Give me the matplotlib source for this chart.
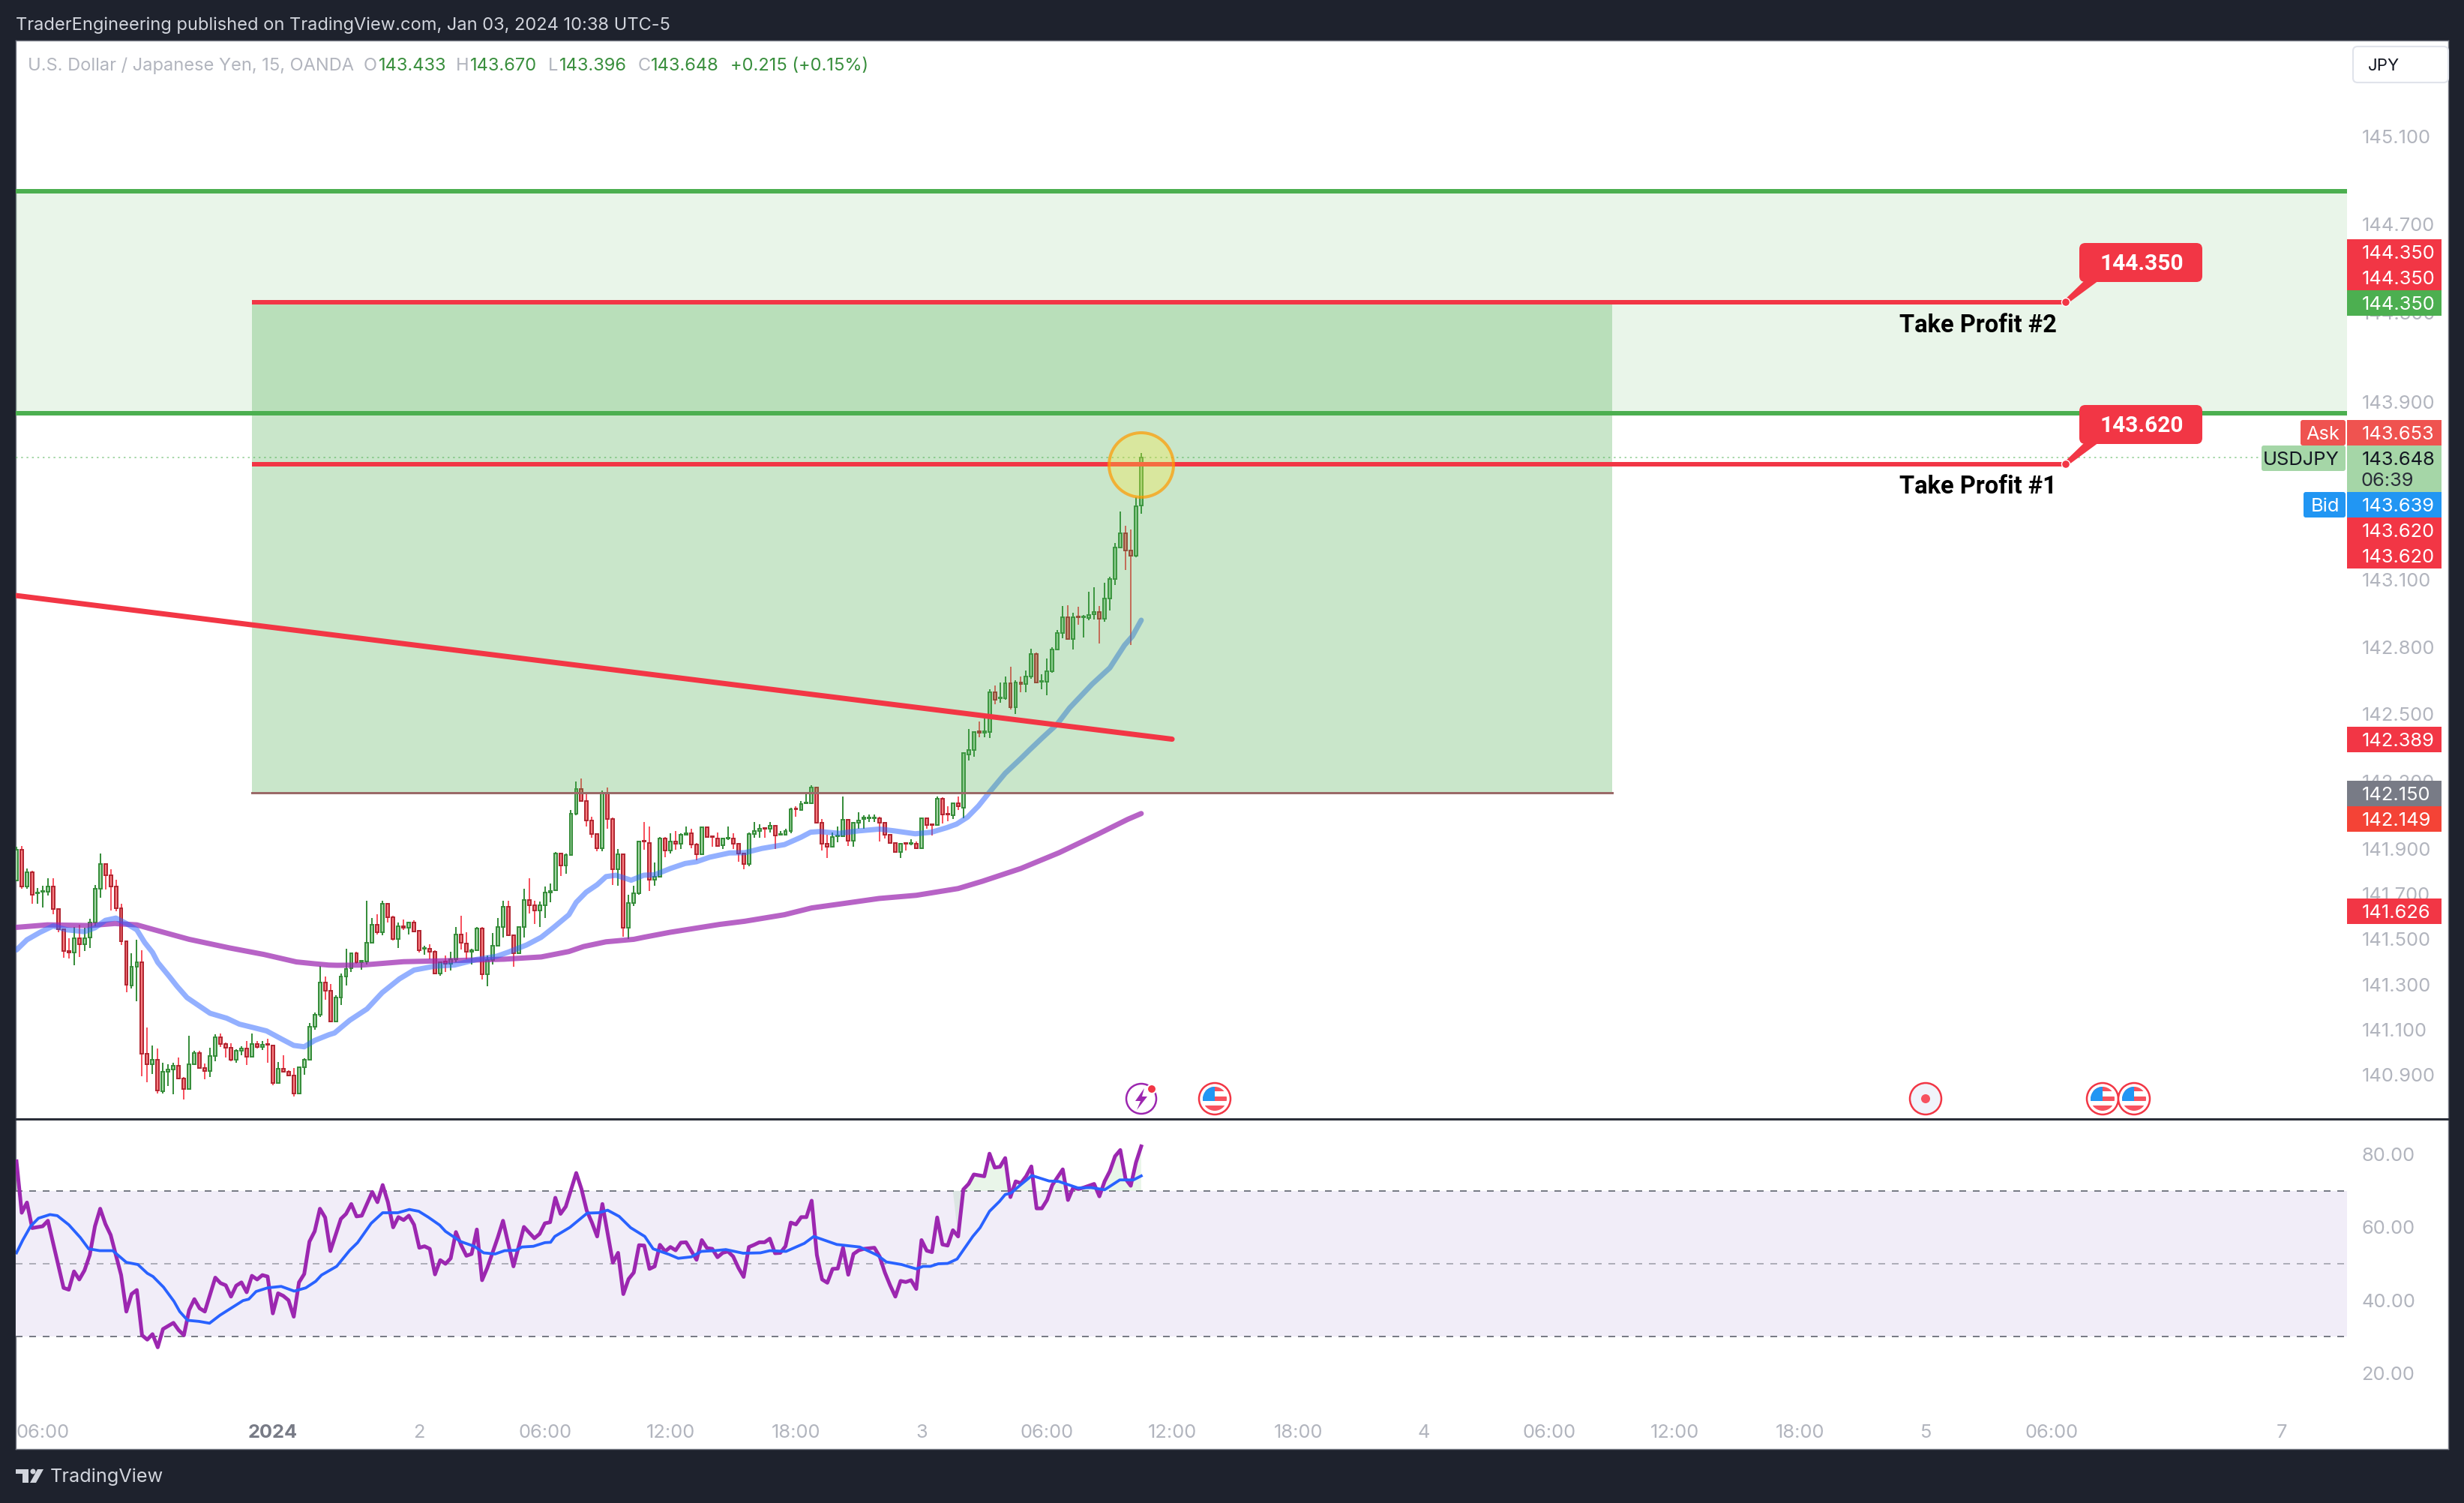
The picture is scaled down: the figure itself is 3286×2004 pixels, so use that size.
import matplotlib
matplotlib.use("Agg")
import numpy as np
import matplotlib.pyplot as plt
from matplotlib.patches import Rectangle, Circle, FancyBboxPatch, Polygon
from matplotlib.ticker import FixedLocator, FixedFormatter, NullLocator

W, H = 3286, 2004
plt.rcParams["font.family"] = ["Inter", "Roboto", "DejaVu Sans"]

# ---------------- data ----------------
highs = [141.911,141.914,141.814,141.805,141.729,141.739,141.769,141.769,141.634,141.548,
141.505,141.555,141.566,141.551,141.592,141.742,141.882,141.834,141.812,141.765,
141.659,141.493,141.439,141.499,141.452,141.109,141.032,141.019,140.955,140.948,
140.955,140.979,140.892,141.075,141.008,141.008,140.952,141.022,141.079,141.085,
141.045,141.039,141.015,141.028,141.049,141.082,141.052,141.052,141.059,141.031,
140.959,140.989,140.922,140.932,140.938,140.974,141.129,141.175,141.381,141.335,
141.302,141.251,141.348,141.459,141.442,141.445,141.404,141.671,141.595,141.612,
141.671,141.658,141.604,141.575,141.589,141.578,141.585,141.538,141.472,141.479,
141.451,141.401,141.429,141.445,141.555,141.605,141.532,141.459,141.555,141.555,
141.429,141.529,141.595,141.671,141.671,141.522,141.555,141.725,141.772,141.671,
141.668,141.734,141.748,141.888,141.885,141.881,142.075,142.202,142.215,142.155,
142.045,141.972,142.159,142.175,142.042,141.899,141.881,141.699,141.739,141.934,
142.019,142.002,141.839,141.955,141.955,141.972,141.979,141.969,142.002,141.992,
141.928,142.002,141.998,141.959,141.975,141.948,142.002,141.969,141.925,141.884,
141.975,142.019,142.012,141.998,142.019,142.005,141.979,141.992,142.085,142.089,
142.115,142.145,142.185,142.174,142.035,141.964,141.975,142.002,142.135,142.035,
142.020,142.065,142.052,142.055,142.055,142.045,142.018,141.968,141.928,141.928,
141.928,141.945,141.934,142.039,142.039,142.011,142.134,142.129,142.092,142.104,
142.134,142.330,142.434,142.424,142.468,142.485,142.610,142.629,142.643,142.667,
142.711,142.653,142.667,142.694,142.791,142.775,142.680,142.748,142.798,142.876,
142.983,142.987,142.953,142.980,142.943,143.047,143.067,142.983,143.088,143.115,
143.266,143.408,143.344,143.327,143.470,143.670]
lows = [141.759,141.725,141.723,141.659,141.659,141.640,141.695,141.612,141.532,141.420,
141.415,141.386,141.422,141.449,141.462,141.559,141.685,141.720,141.629,141.625,
141.475,141.266,141.282,141.225,140.895,140.869,140.905,140.819,140.819,140.852,
140.815,140.884,140.792,140.838,140.948,140.931,140.882,140.892,140.962,141.025,
140.979,140.962,140.955,140.986,140.945,140.981,141.019,141.012,140.955,140.855,
140.864,140.914,140.894,140.805,140.818,140.902,140.968,141.099,141.155,141.234,
141.138,141.138,141.209,141.295,141.355,141.392,141.365,141.389,141.483,141.522,
141.519,141.575,141.495,141.462,141.542,141.522,141.533,141.442,141.432,141.411,
141.345,141.339,141.355,141.362,141.398,141.455,141.412,141.389,141.451,141.322,
141.292,141.389,141.471,141.509,141.518,141.379,141.438,141.509,141.615,141.569,
141.555,141.595,141.665,141.718,141.782,141.792,141.874,142.049,142.114,142.002,
141.949,141.889,141.892,141.992,141.742,141.739,141.511,141.502,141.649,141.699,
141.898,141.715,141.739,141.778,141.864,141.882,141.898,141.899,141.959,141.905,
141.849,141.878,141.949,141.912,141.911,141.902,141.942,141.902,141.845,141.809,
141.825,141.949,141.952,141.949,141.975,141.899,141.959,141.959,141.969,142.044,
142.075,142.104,142.099,142.018,141.895,141.862,141.911,141.929,141.958,141.914,
141.909,141.992,141.989,142.019,142.019,141.934,141.948,141.928,141.884,141.859,
141.895,141.916,141.899,141.904,141.989,141.959,142.008,142.015,142.025,142.035,
142.075,142.038,142.294,142.311,142.399,142.399,142.395,142.543,142.550,142.564,
142.520,142.500,142.599,142.599,142.658,142.642,142.613,142.586,142.684,142.786,
142.839,142.837,142.788,142.898,142.842,142.919,142.923,142.815,142.913,142.963,
143.078,143.245,143.145,142.808,143.203,143.396]
opens = [141.759,141.898,141.734,141.798,141.704,141.710,141.711,141.734,141.634,141.544,
141.448,141.441,141.506,141.478,141.508,141.576,141.724,141.834,141.784,141.734,
141.636,141.493,141.296,141.378,141.398,140.994,140.948,140.968,140.830,140.914,
140.924,140.941,140.884,140.838,140.948,140.998,140.931,140.918,140.984,141.068,
141.038,141.021,140.968,141.008,141.018,140.981,141.038,141.024,141.038,141.031,
140.864,140.928,140.914,140.898,140.818,140.934,140.968,141.114,141.168,141.308,
141.274,141.138,141.244,141.334,141.371,141.438,141.400,141.401,141.486,141.564,
141.531,141.658,141.598,141.500,141.558,141.551,141.574,141.538,141.458,141.458,
141.446,141.348,141.401,141.391,141.411,141.520,141.482,141.445,141.451,141.548,
141.344,141.408,141.471,141.554,141.644,141.518,141.438,141.554,141.674,141.651,
141.628,141.651,141.708,141.718,141.881,141.828,141.874,142.058,142.168,142.114,
142.028,141.968,141.904,142.148,142.034,141.811,141.878,141.551,141.661,141.703,
141.938,141.928,141.764,141.778,141.948,141.894,141.934,141.924,141.964,141.971,
141.920,141.878,141.998,141.958,141.948,141.918,141.946,141.948,141.924,141.881,
141.834,141.968,141.981,141.994,141.991,142.004,141.964,141.964,141.981,142.081,
142.075,142.104,142.104,142.174,142.018,141.924,141.911,141.958,141.958,142.031,
141.938,142.018,142.034,142.036,142.036,142.038,142.018,141.964,141.928,141.888,
141.928,141.923,141.924,141.904,142.038,142.011,142.008,142.124,142.058,142.051,
142.104,142.085,142.320,142.342,142.423,142.419,142.421,142.597,142.571,142.570,
142.638,142.531,142.641,142.635,142.668,142.769,142.645,142.645,142.691,142.789,
142.864,142.932,142.836,142.938,142.932,142.931,142.946,142.957,142.928,143.016,
143.103,143.245,143.311,143.231,143.207,143.433]
closes = [141.898,141.733,141.798,141.698,141.709,141.714,141.734,141.634,141.544,141.448,
141.441,141.506,141.478,141.506,141.576,141.724,141.834,141.784,141.734,141.636,
141.493,141.298,141.378,141.398,140.994,140.948,140.968,140.831,140.914,140.924,
140.941,140.884,140.838,140.948,140.998,140.931,140.918,140.984,141.068,141.038,
141.021,140.968,141.008,141.018,140.981,141.038,141.024,141.034,141.033,140.864,
140.928,140.914,140.898,140.818,140.934,140.968,141.114,141.168,141.308,141.274,
141.138,141.244,141.334,141.370,141.438,141.398,141.404,141.486,141.564,141.531,
141.658,141.598,141.500,141.558,141.551,141.574,141.536,141.453,141.461,141.446,
141.348,141.398,141.391,141.411,141.520,141.485,141.445,141.451,141.548,141.344,
141.408,141.471,141.554,141.644,141.518,141.438,141.554,141.674,141.651,141.628,
141.651,141.708,141.715,141.881,141.828,141.874,142.058,142.168,142.114,142.028,
141.968,141.904,142.148,142.034,141.811,141.878,141.551,141.661,141.704,141.934,
141.934,141.764,141.776,141.948,141.894,141.934,141.924,141.964,141.971,141.920,
141.878,141.998,141.953,141.954,141.914,141.948,141.951,141.924,141.881,141.834,
141.968,141.981,141.991,141.990,142.004,141.961,141.968,141.981,142.078,142.078,
142.101,142.108,142.174,142.018,141.924,141.911,141.954,141.961,142.031,141.938,
142.018,142.028,142.039,142.041,142.041,142.018,141.964,141.928,141.886,141.924,
141.924,141.928,141.904,142.038,142.008,142.008,142.124,142.055,142.054,142.104,
142.089,142.326,142.342,142.421,142.419,142.423,142.598,142.565,142.575,142.638,
142.531,142.641,142.635,142.668,142.769,142.642,142.649,142.691,142.790,142.863,
142.932,142.837,142.934,142.934,142.936,142.944,142.957,142.928,143.016,143.103,
143.244,143.311,143.231,143.208,143.429,143.648]

ema50_bar = [0,2,4.5,7,9.7,13,15,17,19,21,23,24.5,26,27,29.2,30.7,32.6,34,37,40.2,42.6,45.4,47.8,50.7,53,55,57,59.7,
60.8,63.7,67,69.9,73.2,76,79.9,83.7,88,91.8,94.1,97.5,100.3,102.7,105.6,107,108.9,111,112.7,114.6,117.5,119.9,
122,125,127.8,130,132.5,136.3,139.2,142.5,146.8,150,151.8,153.5,157.3,161,165,167.8,171.8,174.9,177.8,179.7,
181.8,183.9,186,189,192,193.7,196,198.9,201.3,205.6,209,211.8,213.3,215]
ema50 = [141.453,141.498,141.531,141.559,141.542,141.534,141.551,141.584,141.594,141.570,141.542,141.486,141.442,141.398,141.336,141.292,141.242,141.220,141.173,141.151,141.125,141.109,141.095,141.059,141.031,141.025,141.053,141.078,
141.086,141.142,141.192,141.264,141.325,141.364,141.381,141.386,141.411,141.425,141.444,141.475,141.509,141.553,141.609,141.664,141.709,141.742,141.778,141.784,141.762,141.784,
141.786,141.814,141.836,141.844,141.864,141.883,141.884,141.903,141.920,141.953,141.975,141.978,141.970,141.981,141.989,141.981,141.968,141.975,141.995,142.011,
142.042,142.092,142.153,142.237,142.303,142.342,142.393,142.455,142.528,142.634,142.707,142.808,142.848,142.920]

ema200_bar = [0,5.9,14,18.8,23,26.4,33,40.7,47.3,53.5,56.9,59.7,61.3,66,74,83.7,93.2,100.3,105.6,108.4,112.7,118,119.9,
124.9,134.4,139.2,146.8,152,158.2,164.9,172,180,184.6,192,199.3,206.6,212.4,215]
ema200 = [141.553,141.564,141.561,141.570,141.564,141.542,141.500,141.462,141.433,141.400,141.392,141.386,141.385,141.386,141.401,141.406,141.412,141.422,141.446,141.468,141.489,141.500,141.509,
141.531,141.566,141.580,141.609,141.639,141.659,141.681,141.695,141.725,141.757,141.814,141.884,141.965,142.032,142.058]

rsi_bar = [0,1,2,3,5,6,9,10,11,12,13,14,15,16,17,18,20,21,22,23,24,25,26,27,28,30,31,32,33,34,35,36,38,39,40,41,42,43,44,45,46,47,48,49,50,51,52,53,54,55,56,57,58,59,60,62,63,64,65,66,68,69,70,71,72,73,74,75,76,77,78,79,80,81,82,83,84,85,86,87,88,89,90,92,93,95,97,99,100,101,102,103,104,105,107,108,109,110,111,
112,114,115,116,117,118,119,120,121,122,123,124,125,126,127,128,130,131,132,133,134,135,136,137,138,139,140,141,142,143,144,145,146,147,148,149,150,151,152,153,154,155,156,157,158,159,160,161,162,164,165,166,167,168,169,170,171,172,173,174,175,176,177,178,179,180,181,182,183,185,186,187,188,189,190,191,192,193,194,195,196,197,198,200,201,202,203,204,206,207,208,209,210,211,212,213,214,215]
rsi = [78.1,64.0,66.8,59.8,60.3,61.8,43.4,42.9,47.9,45.7,48.2,52.4,60.3,65.1,60.9,57.9,46.9,36.9,41.7,42.8,30.4,29.2,30.7,27.1,32.1,33.8,31.8,30.4,37.3,40.3,37.8,36.9,46.2,44.7,44.1,41.0,44.0,44.9,42.2,46.7,45.7,46.9,46.5,36.4,41.9,41.2,40.0,35.5,44.9,47.2,56.1,58.9,65.1,62.7,53.5,62.3,63.7,66.4,63.0,63.2,69.7,66.9,71.6,66.9,60.0,62.8,62.0,63.2,60.7,54.4,54.8,54.1,47.1,51.0,50.0,51.5,58.7,55.1,52.2,52.7,59.4,45.5,48.9,57.2,61.8,49.3,60.1,57.0,58.2,61.1,61.4,68.1,63.7,65.7,74.9,70.5,64.6,61.3,57.5,
66.4,50.3,53.0,41.7,45.8,47.6,55.1,55.0,48.6,49.3,55.2,53.4,54.6,53.7,55.8,55.9,51.1,56.5,54.3,54.1,51.8,53.0,53.4,52.0,48.9,46.4,54.6,55.2,55.9,55.9,56.9,52.9,53.0,54.8,61.3,60.8,62.8,62.8,67.3,52.4,45.7,44.8,48.6,48.7,54.4,47.0,52.7,53.7,54.1,54.4,52.0,47.6,44.1,41.0,45.3,45.0,45.5,43.1,56.5,53.6,53.2,62.7,55.3,55.0,59.2,57.5,70.4,71.9,74.5,74.0,80.2,76.4,76.6,79.0,68.3,72.6,72.1,74.0,76.7,65.2,65.2,67.5,71.6,75.9,67.5,70.9,70.5,70.9,71.9,68.5,72.6,75.4,79.5,81.2,73.3,71.4,77.8,82.2]

rsi_ma_bar = [0,1.2,2.7,4.2,6.4,7.8,10,12.2,13.8,15.9,18.4,21,23.2,25,26.1,28.1,30.1,31.2,32.7,34.9,36.9,38.9,41.1,43.3,44.4,45.8,48,50.6,53.1,55.3,57.2,58.3,61.2,63.7,65.2,67.8,70,72.9,75.1,76.9,78.7,80.9,82,84.9,87.5,89.3,91.5,93.3,95.5,96.6,98.8,101,102.1,102.9,105.8,109.1,111.3,
113,115.2,117.4,120.1,121.7,124.7,126.5,129,130.9,133.4,135.6,138.9,142.2,144,147.1,150.6,152.4,156.8,161.2,164.5,166.3,169.2,172,173.3,174.7,176.2,178,179.8,182.8,184.2,186,187.9,189,190.1,191.9,194.1,197.4,199.2,202.9,205.4,208,210.9,213.5,215]
rsi_ma = [53.0,56.5,60.3,62.5,63.5,63.2,60.7,57.2,54.1,53.6,53.6,50.4,49.8,47.4,46.5,43.6,39.7,36.9,34.5,34.2,33.7,35.9,37.9,39.9,40.3,42.4,43.4,43.8,42.5,43.4,45.2,46.9,49.3,53.7,55.8,61.1,64.0,64.0,64.9,64.4,62.8,60.6,58.9,56.1,54.8,53.0,52.7,53.6,53.7,54.6,54.8,55.8,55.9,57.5,60.0,63.9,64.0,
64.7,63.0,59.9,57.5,54.1,52.6,51.5,51.9,53.4,53.6,53.9,52.9,53.0,53.6,53.4,55.6,57.5,55.3,54.6,52.4,50.5,49.8,48.6,49.3,49.3,50.0,50.1,51.3,57.5,59.9,64.4,67.1,69.0,69.4,71.6,74.2,72.7,72.6,70.8,70.9,70.3,73.0,73.0,74.1]

price_ticks = [145.100,144.700,144.300,143.900,143.100,142.800,142.500,142.200,141.900,141.700,141.500,141.300,141.100,140.900]
rsi_ticks = [80,60,40,20]
time_bars = [5,49,77,101,125,149,173,197,221,245,269,293,317,341,365,389,433]
time_labels = ["06:00","2024","2","06:00","12:00","18:00","3","06:00","12:00","18:00","4","06:00","12:00","18:00","5","06:00","7"]

zone_top, zone_bottom = 144.85, 143.85
box_top, box_bottom = 144.35, 142.15
box_start_bar, box_end_bar = 45, 305
tp_end_bar = 392
last_price = 143.648
trend_bars = [0, 220.9]
trend_prices = [143.03, 142.389]

# ---------------- layout ----------------
DARK = "#1e222d"
GREY = "#b2b5be"
RED = "#f23645"
GREEN = "#4caf50"
DG = "#388e3c"
TICK = 18.3

fig = plt.figure(figsize=(W/100, H/100), dpi=100, facecolor=DARK)

def pax(l, t, r, b, **kw):
    return fig.add_axes([l/W, 1-b/H, (r-l)/W, (b-t)/H], **kw)

bg = pax(21, 54, 3265, 1932, facecolor="white", zorder=0)
bg.set_xticks([]); bg.set_yticks([])
for s in bg.spines.values():
    s.set_color("#787b86"); s.set_linewidth(1.0)

ax = pax(21, 54, 3130, 1491, facecolor="none", zorder=1)
rx = pax(21, 1494, 3130, 1880, facecolor="none", zorder=1)
ov = pax(0, 0, W, H, facecolor="none", zorder=5)
ov.set_xlim(0, W); ov.set_ylim(H, 0); ov.axis("off")

PX = 0.72  # points per pixel
XL = (-0.143, 445.5)

# ---------------- price pane ----------------
ax.set_yscale("log")
o, h, l, c = map(np.array, (opens, highs, lows, closes))
x = np.arange(len(o))
up = c >= o
ax.vlines(x[up], l[up], h[up], color=DG, lw=2*PX, zorder=2)
ax.vlines(x[~up], l[~up], h[~up], color="#f7525f", lw=2*PX, zorder=2)
bot = np.minimum(o, c); top = np.maximum(o, c)
ax.bar(x[up], (top-bot)[up], bottom=bot[up], width=0.56, color="#a5d6a7", edgecolor=DG, linewidth=2*PX, zorder=3)
ax.bar(x[~up], (top-bot)[~up], bottom=bot[~up], width=0.56, color="#f77c80", edgecolor="#b22833", linewidth=2*PX, zorder=3)

ax.plot(ema200_bar, ema200, color="#9c27b0", alpha=0.72, lw=7*PX, zorder=4, solid_capstyle="round")
ax.plot(ema50_bar, ema50, color="#2962ff", alpha=0.5, lw=7*PX, zorder=4.2, solid_capstyle="round")

ax.axhspan(zone_bottom, zone_top, color=GREEN, alpha=0.12, lw=0, zorder=5)
ax.axhline(zone_top, color=GREEN, lw=6*PX, zorder=5.5)
ax.axhline(zone_bottom, color=GREEN, lw=6*PX, zorder=5.5)
ax.fill_between([box_start_bar, box_end_bar], box_bottom, box_top, color=GREEN, alpha=0.3, lw=0, zorder=6)
ax.plot([box_start_bar, box_end_bar], [box_bottom, box_bottom], color="#9a6a68", lw=3*PX, zorder=6.2)
ax.axhline(last_price, color=GREEN, alpha=0.6, lw=1.6*PX, ls=(0, (1.5, 3)), zorder=6.3)
ax.plot([box_start_bar, tp_end_bar], [144.35, 144.35], color=RED, lw=6*PX, zorder=7, solid_capstyle="butt")
ax.plot([box_start_bar, tp_end_bar], [143.62, 143.62], color=RED, lw=6*PX, zorder=7, solid_capstyle="butt")
ax.plot(trend_bars, trend_prices, color=RED, lw=7*PX, zorder=7, solid_capstyle="round")

ax.set_xlim(*XL)
ax.set_ylim(140.71, 145.536)
ax.yaxis.tick_right()
ax.yaxis.set_major_locator(FixedLocator(price_ticks))
ax.yaxis.set_major_formatter(FixedFormatter(["%.3f" % t for t in price_ticks]))
ax.yaxis.set_minor_locator(NullLocator())
ax.tick_params(axis="y", which="both", length=0, pad=14, labelsize=TICK, labelcolor=GREY)
ax.set_xticks([])
for s in ax.spines.values():
    s.set_visible(False)

# ---------------- RSI pane ----------------
r_x, r_y = np.array(rsi_bar, float), np.array(rsi)
rx.axhspan(30, 70, color="#f1edf8", lw=0, zorder=1)
rx.axhline(70, color="#787b86", lw=2*PX, ls=(0, (4.5, 4.5)), zorder=2)
rx.axhline(50, color="#787b86", alpha=0.55, lw=2*PX, ls=(0, (4.5, 4.5)), zorder=2)
rx.axhline(30, color="#787b86", lw=2*PX, ls=(0, (4.5, 4.5)), zorder=2)
mask = (r_y > 70) & (r_x > 175)
rx.fill_between(r_x, 70, r_y, where=mask | np.roll(mask, 1) | np.roll(mask, -1), interpolate=True, color=GREEN, alpha=0.12, lw=0, zorder=2.5)
rx.plot(rsi_bar, rsi, color="#9c27b0", lw=5*PX, zorder=3, solid_joinstyle="round")
rx.plot(rsi_ma_bar, rsi_ma, color="#2962ff", lw=3.8*PX, zorder=4)
rx.set_xlim(*XL)
rx.set_ylim(9.9, 89.3)
rx.yaxis.tick_right()
rx.set_yticks(rsi_ticks)
rx.set_yticklabels(["%.2f" % t for t in rsi_ticks])
rx.tick_params(axis="y", length=0, pad=14, labelsize=TICK, labelcolor=GREY)
rx.set_xticks(time_bars)
rx.set_xticklabels(time_labels)
rx.tick_params(axis="x", length=0, pad=14, labelsize=TICK, labelcolor=GREY)
for t, lab in zip(rx.get_xticklabels(), time_labels):
    if lab == "2024":
        t.set_fontweight("bold"); t.set_color("#787b86")
for s in rx.spines.values():
    s.set_visible(False)

# ---------------- overlay: pane divider, tags, callouts ----------------
ov.plot([21, 3265], [1491.5, 1491.5], color="#2a2e39", lw=3*PX)

def tag(cy, text, fc, tc="white", h=34):
    ov.add_patch(Rectangle((3130, cy-h/2), 126, h, fc=fc, ec="none", zorder=3))
    ov.text(3150, cy, text, color=tc, fontsize=TICK, va="center_baseline", ha="left", zorder=4)

def side(cy, x0, text, fc, tc="white"):
    ov.add_patch(FancyBboxPatch((x0, cy-17), 3128-x0, 34, boxstyle="round,pad=0,rounding_size=3", fc=fc, ec="none", zorder=3))
    ov.text(3120, cy, text, color=tc, fontsize=TICK, va="center_baseline", ha="right", zorder=4)

for cy, t in [(336, "144.350"), (370, "144.350"), (707, "143.620"), (741, "143.620"), (986, "142.389"), (1215, "141.626")]:
    tag(cy, t, RED)
tag(404, "144.350", GREEN)
tag(577, "143.653", "#ef5350")
tag(673, "143.639", "#2196f3")
tag(1058, "142.150", "#787b86")
tag(1092, "142.149", "#f44336")
ov.add_patch(Rectangle((3130, 594), 126, 62, fc="#a5d6a7", ec="none", zorder=3))
ov.text(3150, 611, "143.648", color="#131722", fontsize=TICK, va="center_baseline", zorder=4)
ov.text(3148, 639, "06:39", color="#2a2e39", fontsize=TICK, va="center_baseline", zorder=4)
side(577, 3068, "Ask", "#ef5350")
side(611, 3016, "USDJPY", "#a5d6a7", "#131722")
side(673, 3072, "Bid", "#2196f3")

for ly, t, by in [(403, "144.350", 324), (619, "143.620", 540)]:
    ov.add_patch(Polygon([(2780, by+50), (2799, by+50), (2757, ly+2), (2752, ly-2)], fc=RED, ec="none", zorder=2))
    ov.add_patch(FancyBboxPatch((2773, by), 164, 52, boxstyle="round,pad=0,rounding_size=8", fc=RED, ec="none", zorder=2))
    ov.add_patch(Circle((2755, ly), 5.5, fc=RED, ec="white", lw=1, zorder=2.5))
    ov.text(2856, by+28, t, color="white", fontsize=21.5, fontweight="bold", family="Roboto", ha="center", va="center", zorder=4)
ov.text(2743, 434, "Take Profit #2", color="#000000", fontsize=23.5, fontweight="bold", family="Roboto", ha="right", va="center")
ov.text(2743, 649, "Take Profit #1", color="#000000", fontsize=23.5, fontweight="bold", family="Roboto", ha="right", va="center")

ov.add_patch(Circle((1522, 620), 43, fc=(1, 0.92, 0.23, 0.3), ec=(1.0, 0.6, 0, 0.7), lw=4*PX, zorder=2))

# event icons
def flag(cx, cy=1465):
    ov.add_patch(Circle((cx, cy), 21, fc="white", ec=RED, lw=2.5*PX, zorder=2))
    clip = Circle((cx, cy), 16, transform=ov.transData)
    for (xy, w_, h_, col) in [((cx-17, cy-17), 34, 7, "#f7525f"), ((cx-17, cy-3), 34, 6, "#f7525f"), ((cx-17, cy+9), 34, 9, "#f7525f"), ((cx-17, cy-17), 17, 20, "#2196f3")]:
        p = Rectangle(xy, w_, h_, fc=col, ec="none", zorder=2.2)
        ov.add_patch(p); p.set_clip_path(clip)
flag(1620); flag(2804); flag(2846)
ov.add_patch(Circle((2568, 1465), 21, fc="#f0f3fa", ec=RED, lw=2.5*PX, zorder=2))
ov.add_patch(Circle((2568, 1465), 6, fc="#f7525f", ec="none", zorder=2.2))
ov.add_patch(Circle((1522, 1465), 20, fc="white", ec="#9c27b0", lw=2.5*PX, zorder=2))
ov.add_patch(Polygon([(1526, 1451), (1514, 1468), (1521, 1468), (1516, 1480), (1530, 1462), (1523, 1462)], fc="#9c27b0", ec="none", zorder=2.2))
ov.add_patch(Circle((1536, 1452), 6, fc=RED, ec="white", lw=1.5, zorder=2.3))

# JPY button
ov.add_patch(FancyBboxPatch((3138, 62), 127, 48, boxstyle="round,pad=0,rounding_size=6", fc="white", ec="#e0e3eb", lw=1.5, zorder=2))
ov.text(3179, 88, "JPY", color="#131722", fontsize=16, ha="center", va="center", zorder=3)

# header / legend / footer text
ov.text(21, 34, "TraderEngineering published on TradingView.com, Jan 03, 2024 10:38 UTC-5", color="#d1d4dc", fontsize=17, va="center")
ov.text(37, 88, "U.S. Dollar / Japanese Yen, 15, OANDA", color=GREY, fontsize=17, va="center")
for xp, t, col in [(485, "O", GREY), (505, "143.433", DG), (608, "H", GREY), (627, "143.670", DG), (731, "L", GREY), (746, "143.396", DG),
                   (851, "C", GREY), (868, "143.648", DG), (974, "+0.215 (+0.15%)", DG)]:
    ov.text(xp, 88, t, color=col, fontsize=17, va="center")
ov.text(67, 1969, "TradingView", color="#d1d4dc", fontsize=18.2, va="center")
ov.add_patch(Rectangle((21, 1959), 17, 6, fc="#d1d4dc", ec="none"))
ov.add_patch(Rectangle((30, 1959), 8, 18, fc="#d1d4dc", ec="none"))
ov.add_patch(Circle((44, 1962), 3.5, fc="#d1d4dc", ec="none"))
ov.add_patch(Polygon([(50, 1959), (58, 1959), (48, 1977), (40, 1977)], fc="#d1d4dc", ec="none"))

fig.savefig("out.png", dpi=100, facecolor=DARK)
